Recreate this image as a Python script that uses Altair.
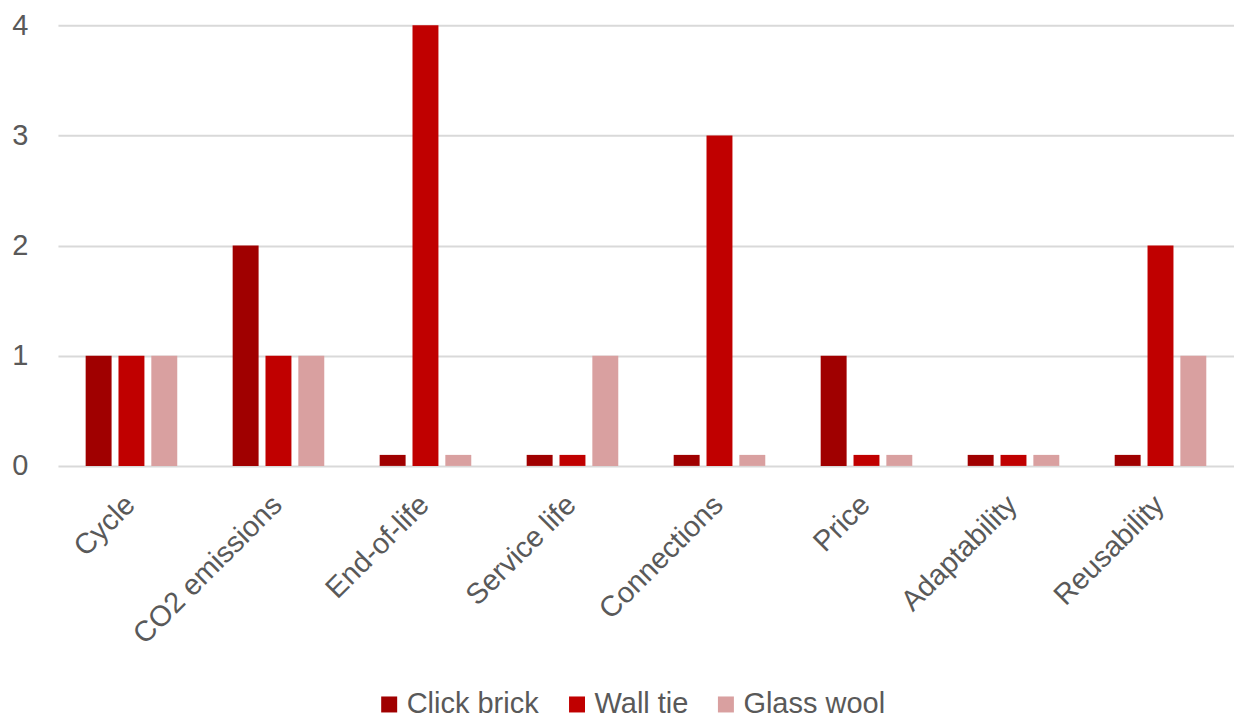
import altair as alt
import pandas as pd

# Scores per criterion for each building element
criteria = ["Cycle", "CO2 emissions", "End-of-life", "Service life",
            "Connections", "Price", "Adaptability", "Reusability"]
series = ["Click brick", "Wall tie", "Glass wool"]
click_brick = [1, 2, 0.1, 0.1, 0.1, 1, 0.1, 0.1]
wall_tie = [1, 1, 4, 0.1, 3, 0.1, 0.1, 2]
glass_wool = [1, 1, 0.1, 1, 0.1, 0.1, 0.1, 1]
colors = ["#A00000", "#C00000", "#D9A0A0"]

rows = []
for name, vals in zip(series, [click_brick, wall_tie, glass_wool]):
    for c, v in zip(criteria, vals):
        rows.append({"criterion": c, "element": name, "score": v})
df = pd.DataFrame(rows)

FONT = "Liberation Sans"
TXT = "#595959"
FS = 29

chart = alt.Chart(df).mark_bar().encode(
    x=alt.X("criterion:N", sort=criteria,
            scale=alt.Scale(paddingInner=0.33, paddingOuter=0.165),
            axis=alt.Axis(title=None, labelAngle=-45, labelAlign="right",
                          labelBaseline="top", labelFontSize=FS, labelFont=FONT,
                          labelColor=TXT, ticks=False, domain=False,
                          labelPadding=24, labelOffset=-11, labelLimit=500,
                          grid=False)),
    xOffset=alt.XOffset("element:N", sort=series,
                        scale=alt.Scale(paddingInner=0.21, paddingOuter=0.105)),
    y=alt.Y("score:Q", scale=alt.Scale(domain=[0, 4], nice=False),
            axis=alt.Axis(title=None, values=[0, 1, 2, 3, 4], format="d",
                          labelFontSize=FS, labelFont=FONT, labelColor=TXT,
                          ticks=False, domain=False, labelPadding=30,
                          gridColor="#D9D9D9", gridWidth=2)),
    color=alt.Color("element:N", sort=series,
                    scale=alt.Scale(domain=series, range=colors),
                    legend=alt.Legend(title=None, orient="none", direction="horizontal",
                                      legendX=317, legendY=665,
                                      labelFontSize=FS, labelFont=FONT, labelColor=TXT,
                                      symbolType="square", symbolSize=256,
                                      symbolStrokeWidth=0, columnPadding=23,
                                      labelOffset=3, labelLimit=300)),
).properties(
    width=1177, height=441,
    background="white",
    autosize=alt.AutoSizeParams(type="none"),
    padding={"left": 58, "top": 25, "right": 0, "bottom": 252},
).configure_view(stroke=None)

chart.save("out.html", embed_options={"renderer": "svg", "actions": False})
